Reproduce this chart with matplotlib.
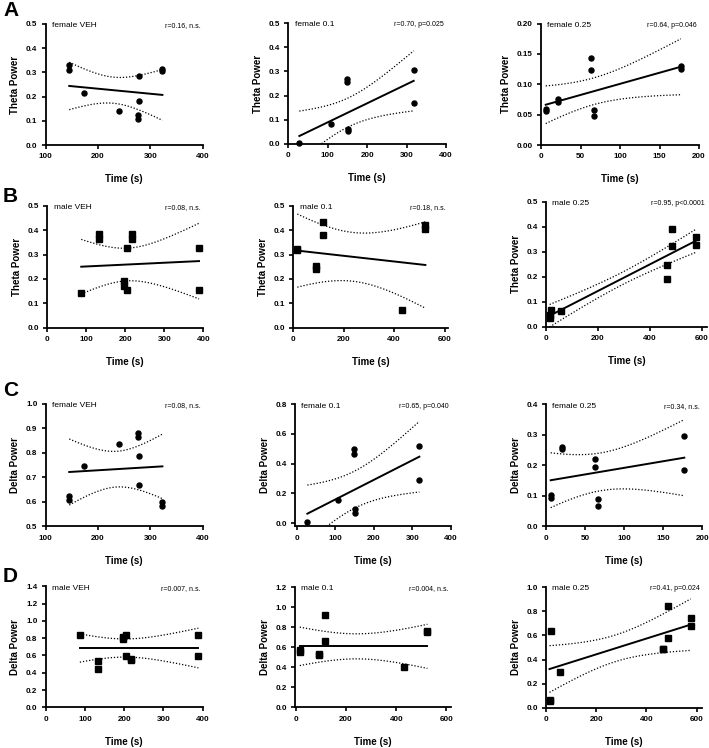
import numpy as np
import matplotlib
matplotlib.use("Agg")
import matplotlib.pyplot as plt

plt.rcParams['font.family'] = ['Liberation Sans', 'DejaVu Sans']

# ---------------- data ----------------
# female groups (circles)
fveh_time = [145, 145, 173, 240, 277, 277, 279, 279, 323, 323]
fveh_theta = [0.330, 0.310, 0.215, 0.142, 0.125, 0.107, 0.284, 0.183, 0.313, 0.306]
fveh_delta = [0.625, 0.607, 0.748, 0.838, 0.881, 0.866, 0.787, 0.670, 0.601, 0.583]

f01_time = [28, 108, 149, 149, 151, 151, 318, 318]
f01_theta = [0.003, 0.082, 0.268, 0.256, 0.064, 0.052, 0.305, 0.168]
f01_delta = [0.005, 0.153, 0.497, 0.465, 0.095, 0.065, 0.521, 0.292]

f025_time = [6, 6, 21, 21, 63, 63, 67, 67, 177, 177]
f025_theta = [0.059, 0.056, 0.075, 0.071, 0.143, 0.124, 0.058, 0.048, 0.130, 0.125]
f025_delta = [0.101, 0.094, 0.261, 0.255, 0.220, 0.196, 0.090, 0.068, 0.297, 0.185]

# male groups (squares)
mveh_time = [87, 133, 133, 197, 197, 204, 204, 217, 217, 389, 389]
mveh_theta = [0.142, 0.383, 0.363, 0.192, 0.170, 0.328, 0.153, 0.383, 0.363, 0.328, 0.153]
mveh_delta = [0.842, 0.541, 0.438, 0.819, 0.792, 0.838, 0.598, 0.556, 0.550, 0.838, 0.598]

m01_time = [16, 16, 92, 92, 116, 116, 431, 524, 524]
m01_theta = [0.318, 0.322, 0.252, 0.240, 0.432, 0.381, 0.071, 0.420, 0.404]
m01_delta = [0.575, 0.552, 0.529, 0.525, 0.921, 0.665, 0.406, 0.758, 0.752]

m025_time = [14, 14, 19, 57, 465, 465, 486, 486, 576, 576]
m025_theta = [0.036, 0.047, 0.065, 0.063, 0.245, 0.190, 0.391, 0.324, 0.360, 0.327]
m025_delta = [0.055, 0.068, 0.635, 0.298, 0.490, 0.485, 0.840, 0.575, 0.745, 0.675]

# fitted regression line as drawn in the figure: value at first / last time
fit_start_theta = [0.244, 0.033, 0.0663, 0.250, 0.316, 0.044]
fit_end_theta = [0.207, 0.261, 0.1288, 0.273, 0.257, 0.343]
fit_start_delta = [0.722, 0.063, 0.151, 0.686, 0.608, 0.322]
fit_end_delta = [0.745, 0.447, 0.225, 0.686, 0.608, 0.689]
# 95% confidence band half-width: at first time, at last time, narrowest
ci_start_theta = [0.098, 0.103, 0.031, 0.112, 0.150, 0.045]
ci_end_theta = [0.105, 0.124, 0.046, 0.155, 0.177, 0.046]
ci_min_theta = [0.054, 0.060, 0.022, 0.067, 0.100, 0.025]
ci_start_delta = [0.135, 0.193, 0.090, 0.164, 0.192, 0.193]
ci_end_delta = [0.132, 0.238, 0.125, 0.230, 0.220, 0.213]
ci_min_delta = [0.073, 0.125, 0.062, 0.105, 0.125, 0.110]

group_labels = ["female VEH", "female 0.1", "female 0.25",
                "male VEH", "male 0.1", "male 0.25"]
stat_labels_theta = ["r=0.16, n.s.", "r=0.70, p=0.025", "r=0.64, p=0.046",
                     "r=0.08, n.s.", "r=0.18, n.s.", "r=0.95, p<0.0001"]
stat_labels_delta = ["r=0.08, n.s.", "r=0.65, p=0.040", "r=0.34, n.s.",
                     "r=0.007, n.s.", "r=0.004, n.s.", "r=0.41, p=0.024"]
panel_letters = ["A", "B", "C", "D"]

W, H = 709, 748
fig = plt.figure(figsize=(W / 100, H / 100), dpi=100)


def add_ax(L, R, T, B):
    return fig.add_axes([L / W, 1 - B / H, (R - L) / W, (B - T) / H])


def panel(box, x, y, fit, ci, marker, xlim, xticks, ylim, yticks, yfmt,
          ylabel, glabel, slabel):
    ax = add_ax(*box)
    x = np.asarray(x, float)
    y = np.asarray(y, float)
    x0, x1 = x.min(), x.max()
    y0, y1 = fit
    hs, he, h0 = ci
    xs = np.linspace(x0, x1, 120)
    yh = y0 + (y1 - y0) * (xs - x0) / (x1 - x0)
    # hyperbolic confidence band of a linear regression
    sa = np.sqrt(max(hs ** 2 - h0 ** 2, 0))
    sb = np.sqrt(max(he ** 2 - h0 ** 2, 0))
    sk = (sa + sb) / (x1 - x0)
    xc = x0 + sa / sk
    half = np.sqrt(h0 ** 2 + (sk * (xs - xc)) ** 2)
    ax.plot(xs, yh, color='black', lw=1.4, zorder=2)
    ax.plot(xs, yh + half, color='black', lw=0.9, ls=(0, (1, 1.5)), zorder=2)
    ax.plot(xs, yh - half, color='black', lw=0.9, ls=(0, (1, 1.5)), zorder=2)
    ms = 3.6 if marker == 'o' else 3.8
    ax.plot(x, y, ls='none', marker=marker, ms=ms, color='black', zorder=3,
            clip_on=False)
    ax.set_xlim(*xlim)
    ax.set_ylim(*ylim)
    ax.set_xticks(xticks)
    ax.set_xticklabels([str(v) for v in xticks])
    ax.set_yticks(yticks)
    ax.set_yticklabels([yfmt.format(v) for v in yticks])
    for sp in ['top', 'right']:
        ax.spines[sp].set_visible(False)
    for sp in ['left', 'bottom']:
        ax.spines[sp].set_linewidth(1.3)
    ax.tick_params(axis='both', direction='out', length=3, width=1.2,
                   labelsize=5.8, pad=3)
    for lab in ax.get_xticklabels() + ax.get_yticklabels():
        lab.set_fontweight('bold')
    ax.set_xlabel("Time (s)", fontsize=7, fontweight='bold', labelpad=10)
    ax.set_ylabel(ylabel, fontsize=7, fontweight='bold', labelpad=4)
    ax.text(0.04, 0.985, glabel, transform=ax.transAxes, fontsize=6,
            ha='left', va='center')
    ax.text(0.985, 0.985, slabel, transform=ax.transAxes, fontsize=5,
            ha='right', va='center')
    return ax


# boxes (left, right, top, bottom) in pixels
boxes = [
    [(45.7, 202.7, 24, 145), (288.3, 446, 23, 144), (541, 699, 23.5, 145)],
    [(47.3, 203.3, 205.7, 327.7), (293.3, 448.3, 205.7, 327.7), (546, 707, 201.7, 326.7)],
    [(45.7, 202.7, 404, 526.3), (295, 451, 404.3, 526.3), (546, 702.3, 404.3, 526.3)],
    [(45.7, 202.7, 586.3, 707.3), (295, 451, 587, 707.3), (546, 701.7, 587, 708)],
]

th = [(fveh_time, fveh_theta), (f01_time, f01_theta), (f025_time, f025_theta),
      (mveh_time, mveh_theta), (m01_time, m01_theta), (m025_time, m025_theta)]
de = [(fveh_time, fveh_delta), (f01_time, f01_delta), (f025_time, f025_delta),
      (mveh_time, mveh_delta), (m01_time, m01_delta), (m025_time, m025_delta)]

xl_f = [((100, 400), [100, 200, 300, 400]), ((0, 400), [0, 100, 200, 300, 400]),
        ((0, 200), [0, 50, 100, 150, 200])]
xl_m = [((0, 400), [0, 100, 200, 300, 400]), ((0, 615), [0, 200, 400, 600]),
        ((0, 620), [0, 200, 400, 600])]
xl_m_d = [((0, 400), [0, 100, 200, 300, 400]), ((-3, 618), [0, 200, 400, 600]),
          ((0, 620), [0, 200, 400, 600])]

yA = [((0, 0.5), np.arange(0, 0.51, 0.1), "{:.1f}"),
      ((0, 0.5), np.arange(0, 0.51, 0.1), "{:.1f}"),
      ((0, 0.2), np.arange(0, 0.201, 0.05), "{:.2f}")]
yB = [((0, 0.5), np.arange(0, 0.51, 0.1), "{:.1f}")] * 3
yC = [((0.5, 1.0), np.arange(0.5, 1.01, 0.1), "{:.1f}"),
      ((-0.022, 0.8), np.arange(0, 0.81, 0.2), "{:.1f}"),
      ((0, 0.4), np.arange(0, 0.41, 0.1), "{:.1f}")]
yD = [((0, 1.4), np.arange(0, 1.41, 0.2), "{:.1f}"),
      ((0, 1.2), np.arange(0, 1.21, 0.2), "{:.1f}"),
      ((0, 1.0), np.arange(0, 1.01, 0.2), "{:.1f}")]

for j in range(3):
    m = j + 3
    (xl, xt) = xl_f[j]
    yl, yt, yf = yA[j]
    panel(boxes[0][j], *th[j], (fit_start_theta[j], fit_end_theta[j]),
          (ci_start_theta[j], ci_end_theta[j], ci_min_theta[j]),
          'o', xl, xt, yl, yt, yf, "Theta Power",
          group_labels[j], stat_labels_theta[j])
    (xl, xt) = xl_m[j]
    yl, yt, yf = yB[j]
    panel(boxes[1][j], *th[m], (fit_start_theta[m], fit_end_theta[m]),
          (ci_start_theta[m], ci_end_theta[m], ci_min_theta[m]),
          's', xl, xt, yl, yt, yf, "Theta Power",
          group_labels[m], stat_labels_theta[m])
    (xl, xt) = xl_f[j]
    if j == 1:
        xl = (-4, 400)
    yl, yt, yf = yC[j]
    panel(boxes[2][j], *de[j], (fit_start_delta[j], fit_end_delta[j]),
          (ci_start_delta[j], ci_end_delta[j], ci_min_delta[j]),
          'o', xl, xt, yl, yt, yf, "Delta Power",
          group_labels[j], stat_labels_delta[j])
    (xl, xt) = xl_m_d[j]
    yl, yt, yf = yD[j]
    panel(boxes[3][j], *de[m], (fit_start_delta[m], fit_end_delta[m]),
          (ci_start_delta[m], ci_end_delta[m], ci_min_delta[m]),
          's', xl, xt, yl, yt, yf, "Delta Power",
          group_labels[m], stat_labels_delta[m])

letter_pos = [(3, 11), (3, 196), (3, 390), (3, 576)]
for letter, (px, py) in zip(panel_letters, letter_pos):
    fig.text(px / W, 1 - py / H, letter, fontsize=15, fontweight='bold',
             ha='left', va='center')

fig.savefig("out.png", dpi=100)
